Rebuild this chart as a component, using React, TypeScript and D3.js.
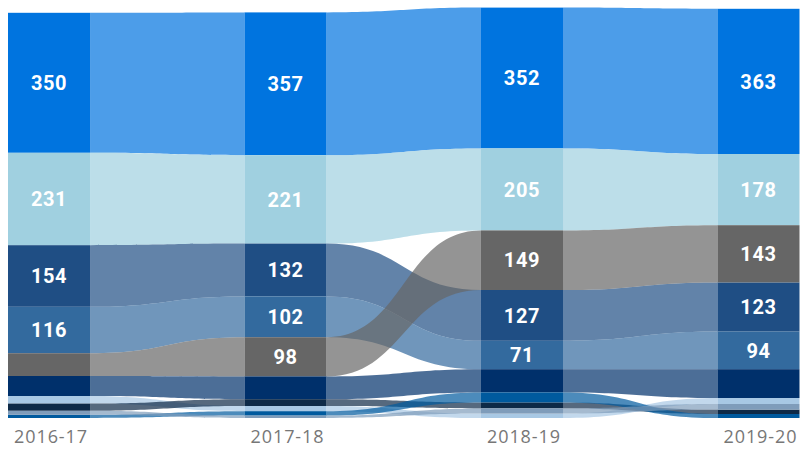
import * as d3 from "d3";

// columns
const years = ["2016-17", "2017-18", "2018-19", "2019-20"];

// series values per year (ribbon chart, ranked per column)
const seriesA = [350, 357, 352, 363];
const seriesB = [231, 221, 205, 178];
const seriesC = [154, 132, 127, 123];
const seriesD = [116, 102, 71, 94];
const seriesE = [57, 98, 149, 143];
const seriesF = [50, 57, 58, 72];
const seriesG = [19, 13, 11, 15];
const seriesH = [18, 17, 15, 11];
const seriesI = [8, 11, 25, 10];
const seriesJ = [10, 6, 13, 14];

const allSeries = [seriesA, seriesB, seriesC, seriesD, seriesE, seriesF, seriesG, seriesH, seriesI, seriesJ];
// only the main five series carry data labels
const labelled = [true, true, true, true, true, false, false, false, false, false];
const barColors = [
  "#0074DF", "#A0D0E0", "#1F4E84", "#336A9E", "#666666",
  "#00306B", "#A8C8E4", "#0E2A47", "#005A9E", "#7F9CBA",
];

const W = 800;
const H = 449;

export default function App() {
  const x = d3.scaleBand<string>().domain(years).range([8, 799.5]).paddingInner(0.653).paddingOuter(0);
  const y = d3.scaleLinear().domain([0, 1015]).range([418, 12]);
  const bw = x.bandwidth();

  // per column: sort ascending, stack from the bottom so the biggest ends on top
  const pos: { y0: number; y1: number }[][] = allSeries.map(() => []);
  years.forEach((_, c) => {
    const order = d3.range(allSeries.length).sort((a, b) => allSeries[a][c] - allSeries[b][c]);
    let acc = 0;
    order.forEach((s) => {
      pos[s][c] = { y0: acc, y1: acc + allSeries[s][c] };
      acc += allSeries[s][c];
    });
  });

  const ribbon = (s: number, c: number) => {
    const x0 = (x(years[c]) as number) + bw;
    const x1 = x(years[c + 1]) as number;
    const xm = (x0 + x1) / 2;
    const t0 = y(pos[s][c].y1), b0 = y(pos[s][c].y0);
    const t1 = y(pos[s][c + 1].y1), b1 = y(pos[s][c + 1].y0);
    return `M${x0},${t0}C${xm},${t0} ${xm},${t1} ${x1},${t1}L${x1},${b1}C${xm},${b1} ${xm},${b0} ${x0},${b0}Z`;
  };

  return (
    <div style={{ position: "absolute", left: 0, top: 0 }}>
      <svg width={W} height={H} style={{ display: "block", background: "#fff" }}>
        <g>
          {allSeries.map((_, s) =>
            d3.range(years.length - 1).map((c) => (
              <path key={`r${s}-${c}`} d={ribbon(s, c)} fill={barColors[s]} fillOpacity={0.7} />
            ))
          )}
        </g>
        <g>
          {allSeries.map((vals, s) =>
            years.map((yr, c) => (
              <rect
                key={`b${s}-${c}`}
                x={x(yr)}
                y={y(pos[s][c].y1)}
                width={bw}
                height={y(pos[s][c].y0) - y(pos[s][c].y1)}
                fill={barColors[s]}
              />
            ))
          )}
        </g>
        <g fontFamily="Roboto, sans-serif" fontWeight={700} fontSize={20} fill="#fff" textAnchor="middle">
          {allSeries.map((vals, s) =>
            years.map((yr, c) => {
              const top = y(pos[s][c].y1);
              const bot = y(pos[s][c].y0);
              if (!labelled[s] || bot - top < 26) return null;
              return (
                <text key={`l${s}-${c}`} x={(x(yr) as number) + bw / 2} y={(top + bot) / 2} dy="0.36em" letterSpacing={0.6}>
                  {vals[c]}
                </text>
              );
            })
          )}
        </g>
        <g fontFamily="'Open Sans', sans-serif" fontSize={18} fill="#777" textAnchor="middle" letterSpacing={0.9}>
          {years.map((yr) => (
            <text key={yr} x={(x(yr) as number) + bw / 2 + 2} y={443}>
              {yr}
            </text>
          ))}
        </g>
      </svg>
    </div>
  );
}
